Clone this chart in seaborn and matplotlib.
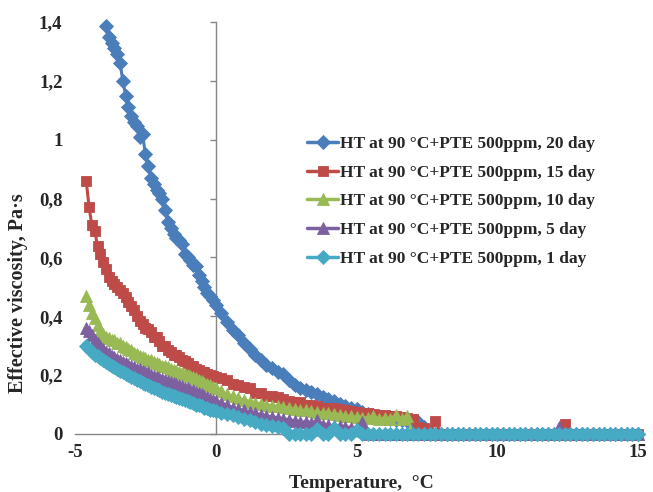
import numpy as np
import pandas as pd
import matplotlib
matplotlib.use("Agg")
import matplotlib.pyplot as plt
from matplotlib.ticker import FuncFormatter
import seaborn as sns

# ---------------- data ----------------
TEMP = [
    -4.6, -4.5, -4.4, -4.3, -4.2, -4.1, -4.0, -3.9, -3.8, -3.7,
    -3.6, -3.5, -3.4, -3.3, -3.2, -3.1, -3.0, -2.9, -2.8, -2.7,
    -2.6, -2.5, -2.4, -2.3, -2.2, -2.1, -2.0, -1.9, -1.8, -1.7,
    -1.6, -1.5, -1.4, -1.3, -1.2, -1.1, -1.0, -0.9, -0.8, -0.7,
    -0.6, -0.5, -0.4, -0.3, -0.2, -0.1, 0.0,
    0.2, 0.4, 0.6, 0.8, 1.0, 1.2, 1.4, 1.6, 1.8, 2.0,
    2.2, 2.4, 2.6, 2.8, 3.0, 3.2, 3.4, 3.6, 3.8, 4.0,
    4.2, 4.4, 4.6, 4.8, 5.0, 5.2, 5.4, 5.6, 5.8, 6.0,
    6.2, 6.4, 6.6, 6.8, 7.0, 7.2, 7.4, 7.6, 7.8, 8.0,
    8.2, 8.4, 8.6, 8.8, 9.0, 9.2, 9.4, 9.6, 9.8, 10.0,
    10.2, 10.4, 10.6, 10.8, 11.0, 11.2, 11.4, 11.6, 11.8, 12.0,
    12.2, 12.4, 12.6, 12.8, 13.0, 13.2, 13.4, 13.6, 13.8, 14.0,
    14.2, 14.4, 14.6, 14.8, 15.0,
]

DAY20 = [
    None, None, None, None, None, None, None, 1.385, 1.35, 1.33,
    1.31, 1.29, 1.26, 1.20, 1.15, 1.11, 1.08, 1.06, 1.045, 1.01,
    1.02, 0.95, 0.91, 0.87, 0.85, 0.83, 0.82, 0.80, 0.76, 0.72,
    0.70, 0.68, 0.665, 0.66, 0.645, 0.61, 0.60, 0.59, 0.575, 0.57,
    0.54, 0.52, 0.50, 0.48, 0.47, 0.455, 0.44,
    0.41, 0.38, 0.355, 0.335, 0.31, 0.29, 0.27, 0.25, 0.235, 0.225,
    0.212, 0.203, 0.185, 0.165, 0.157, 0.15, 0.142, 0.135, 0.126, 0.118,
    0.112, 0.103, 0.095, 0.09, 0.085, 0.074, 0.069, 0.064, 0.06, 0.056,
    0.052, 0.048, 0.046, 0.043, 0.041, 0.04, 0.025, 0, 0, 0,
    0, 0, 0, 0, 0, 0, 0, 0, 0, 0,
    0, 0, 0, 0, 0, 0, 0, 0, 0, 0,
    0, 0, 0, 0, 0, 0, 0, 0, 0, 0,
    0, 0, 0, 0, 0,
]

DAY15 = [
    0.86, 0.77, 0.71, 0.69, 0.64, 0.61, 0.585, 0.56, 0.535, 0.52,
    0.51, 0.50, 0.49, 0.48, 0.465, 0.45, 0.435, 0.42, 0.40, 0.385,
    0.375, 0.36, 0.358, 0.345, 0.33, 0.33, 0.315, 0.30, 0.298, 0.285,
    0.28, 0.27, 0.268, 0.26, 0.25, 0.248, 0.24, 0.232, 0.23, 0.222,
    0.218, 0.212, 0.21, 0.205, 0.2, 0.198, 0.195,
    0.19, 0.182, 0.17, 0.168, 0.16, 0.155, 0.14, 0.138, 0.13, 0.128,
    0.125, 0.12, 0.112, 0.11, 0.108, 0.10, 0.10, 0.095, 0.09, 0.088,
    0.087, 0.085, 0.082, 0.078, 0.075, 0.072, 0.07, 0.068, 0.066, 0.064,
    0.062, 0.06, 0.058, 0.055, 0.05, 0.025, 0.02, 0, 0.045, 0,
    0, 0, 0, 0, 0, 0, 0, 0, 0, 0,
    0, 0, 0, 0, 0, 0, 0, 0, 0, 0,
    0, 0.035, 0, 0, 0, 0, 0, 0, 0, 0,
    0, 0, 0, 0, 0,
]

DAY10 = [
    0.47, 0.44, 0.41, 0.395, 0.37, 0.35, 0.34, 0.33, 0.325, 0.32,
    0.318, 0.31, 0.308, 0.298, 0.296, 0.288, 0.285, 0.276, 0.273, 0.265,
    0.26, 0.258, 0.252, 0.25, 0.245, 0.24, 0.238, 0.232, 0.23, 0.226,
    0.222, 0.218, 0.215, 0.212, 0.208, 0.204, 0.2, 0.196, 0.193, 0.19,
    0.185, 0.18, 0.175, 0.17, 0.165, 0.16, 0.155,
    0.145, 0.135, 0.128, 0.122, 0.115, 0.11, 0.106, 0.102, 0.1, 0.096,
    0.094, 0.092, 0.088, 0.085, 0.082, 0.08, 0.077, 0.075, 0.072, 0.07,
    0.068, 0.066, 0.062, 0.06, 0.058, 0.056, 0.055, 0.06, 0.052, 0.054,
    0.05, 0.065, 0.05, 0.062, 0, 0, 0, 0, 0, 0,
    0, 0, 0, 0, 0, 0, 0, 0, 0, 0,
    0, 0, 0, 0, 0, 0, 0, 0, 0, 0,
    0, 0, 0, 0, 0, 0, 0, 0, 0, 0,
    0, 0, 0, 0, 0,
]

DAY5 = [
    0.36, 0.35, 0.335, 0.32, 0.31, 0.30, 0.29, 0.28, 0.275, 0.265,
    0.26, 0.255, 0.25, 0.245, 0.24, 0.235, 0.23, 0.228, 0.222, 0.22,
    0.215, 0.21, 0.21, 0.2, 0.198, 0.195, 0.19, 0.188, 0.182, 0.18,
    0.176, 0.172, 0.17, 0.165, 0.162, 0.158, 0.155, 0.15, 0.148, 0.142,
    0.138, 0.135, 0.13, 0.125, 0.12, 0.117, 0.112,
    0.105, 0.098, 0.09, 0.085, 0.08, 0.074, 0.07, 0.066, 0.062, 0.058,
    0.055, 0.052, 0.048, 0.045, 0.042, 0.04, 0.037, 0.048, 0.032, 0.03,
    0.028, 0.026, 0.024, 0.022, 0.02, 0.04, 0, 0, 0, 0,
    0, 0, 0, 0, 0, 0, 0, 0, 0, 0,
    0, 0, 0, 0, 0, 0, 0, 0, 0, 0,
    0, 0, 0, 0, 0, 0, 0, 0, 0, 0,
    0.025, 0, 0, 0, 0, 0, 0, 0, 0, 0,
    0, 0, 0, 0, 0,
]

DAY1 = [
    0.30, 0.29, 0.28, 0.27, 0.265, 0.258, 0.25, 0.245, 0.238, 0.23,
    0.226, 0.22, 0.215, 0.21, 0.205, 0.2, 0.195, 0.19, 0.185, 0.18,
    0.175, 0.17, 0.165, 0.16, 0.157, 0.152, 0.148, 0.143, 0.14, 0.135,
    0.132, 0.128, 0.125, 0.122, 0.118, 0.115, 0.112, 0.108, 0.105, 0.1,
    0.097, 0.094, 0.09, 0.087, 0.083, 0.08, 0.077,
    0.072, 0.068, 0.064, 0.058, 0.052, 0.046, 0.042, 0.035, 0.03, 0.027,
    0.024, 0.02, 0, 0, 0, 0, 0, 0.018, 0, 0,
    0.02, 0, 0, 0, 0.015, 0, 0, 0, 0, 0,
    0, 0, 0, 0, 0, 0, 0, 0, 0, 0,
    0, 0, 0, 0, 0, 0, 0, 0, 0, 0,
    0, 0, 0, 0, 0, 0, 0, 0, 0, 0,
    0, 0, 0, 0, 0, 0, 0, 0, 0, 0,
    0, 0, 0, 0, 0,
]

LABELS = [
    "HT at 90 °C+PTE 500ppm, 20 day",
    "HT at 90 °C+PTE 500ppm, 15 day",
    "HT at 90 °C+PTE 500ppm, 10 day",
    "HT at 90 °C+PTE 500ppm, 5 day",
    "HT at 90 °C+PTE 500ppm, 1 day",
]
SERIES = [DAY20, DAY15, DAY10, DAY5, DAY1]
COLORS = ["#4A7EBB", "#BE4B48", "#98B954", "#7D60A0", "#46AAC5"]
MARKERS = ["D", "s", "^", "^", "D"]
MSIZES = [7, 7.5, 8, 8, 7]

X_TICKS = [-5, 0, 5, 10, 15]
Y_TICKS = [0, 0.2, 0.4, 0.6, 0.8, 1.0, 1.2, 1.4]

# ---------------- style ----------------
sns.set_style("white")
plt.rcParams["font.family"] = ["Liberation Serif", "DejaVu Serif"]
plt.rcParams["font.weight"] = "bold"
GRAY = "#868686"

fig = plt.figure(figsize=(6.53, 4.92), dpi=100)
ax = fig.add_axes([75 / 653, 1 - 434 / 492, 563 / 653, 412 / 492])

temp = np.array(TEMP, dtype=float)
for ys, lab, col, mk, ms in zip(SERIES, LABELS, COLORS, MARKERS, MSIZES):
    y = np.array(ys, dtype=float)
    ok = ~np.isnan(y)
    df = pd.DataFrame({"Temperature": temp[ok], "Viscosity": y[ok]})
    sns.lineplot(data=df, x="Temperature", y="Viscosity", ax=ax,
                 color=col, marker=mk, markersize=ms,
                 markeredgecolor=col, markeredgewidth=0.6,
                 linewidth=2.2, label=lab, sort=False, estimator=None,
                 clip_on=False)

ax.set_xlim(-5, 15)
ax.set_ylim(0, 1.4)
ax.set_xticks(X_TICKS)
ax.set_yticks(Y_TICKS)


def fmt(v, p):
    s = f"{v:.1f}".rstrip("0").rstrip(".")
    return s.replace(".", ",")


ax.yaxis.set_major_formatter(FuncFormatter(fmt))
ax.xaxis.set_major_formatter(FuncFormatter(lambda v, p: f"{v:g}"))

for side in ["top", "right", "left"]:
    ax.spines[side].set_visible(False)
ax.spines["bottom"].set_color(GRAY)
ax.spines["bottom"].set_linewidth(1.0)
ax.spines["bottom"].set_zorder(0.5)

ax.tick_params(axis="x", length=0, pad=7, labelsize=13.5)
ax.tick_params(axis="y", length=0, pad=9, labelsize=13.5)
for t in ax.get_xticklabels() + ax.get_yticklabels():
    t.set_fontweight("bold")

# vertical axis line crossing at x = 0 with outward ticks
sec = ax.secondary_yaxis(0.25)
sec.set_yticks(Y_TICKS)
sec.tick_params(axis="y", labelleft=False, length=4, width=1.0,
                color=GRAY, direction="out")
sec.spines["left"].set_color(GRAY)
sec.spines["left"].set_linewidth(1.0)

ax.set_xlabel("Temperature,  °C", fontsize=14, fontweight="bold")
ax.set_ylabel("Effective viscosity, Pa·s", fontsize=14.5, fontweight="bold")
ax.xaxis.set_label_coords(0.508, -0.1)
ax.yaxis.set_label_coords(-0.083, 0.342)

leg = ax.legend(loc="upper left", bbox_to_anchor=(307 / 653, 1 - 136 / 492),
                bbox_transform=fig.transFigure, frameon=False,
                fontsize=12.5, handlelength=1.8, handletextpad=0.1,
                labelspacing=0.72, borderpad=0, borderaxespad=0)
for t in leg.get_texts():
    t.set_fontweight("bold")
for h in leg.legend_handles:
    h.set_linewidth(2.5)

fig.savefig("out.png", dpi=100)
